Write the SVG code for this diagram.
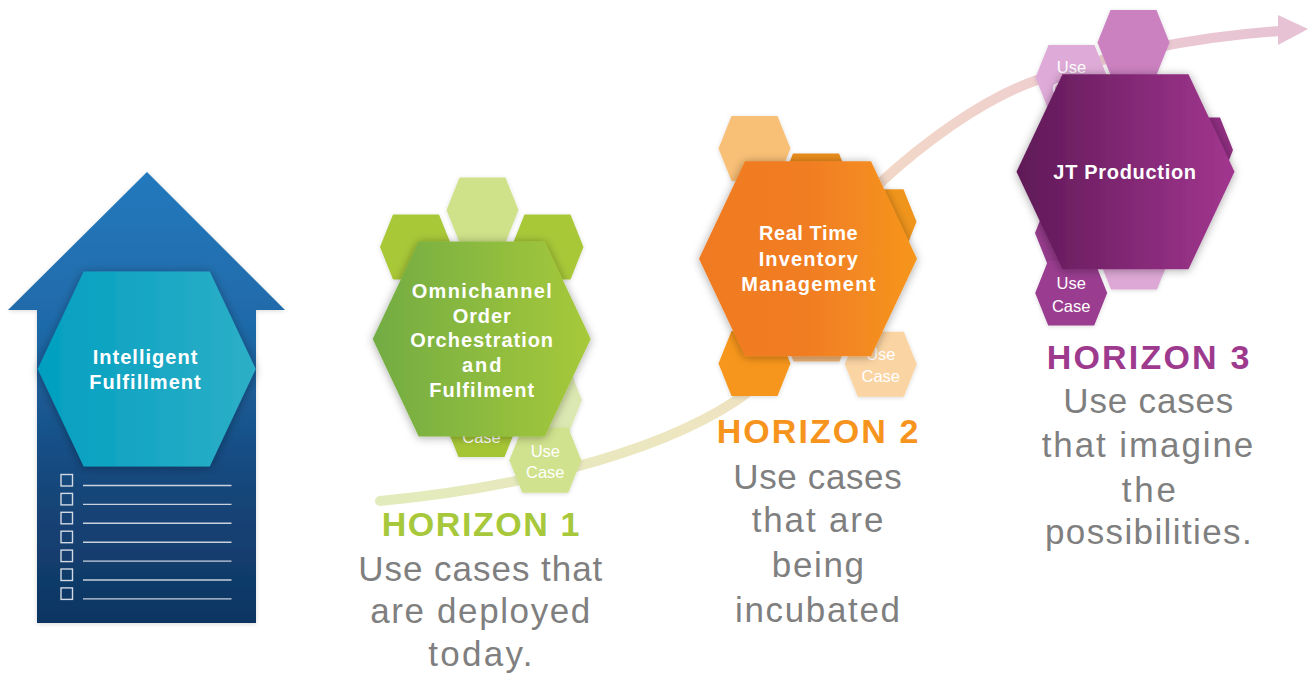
<svg xmlns="http://www.w3.org/2000/svg" xmlns:xlink="http://www.w3.org/1999/xlink" width="1309" height="677" viewBox="0 0 1309 677">
<style>
  .lbl { font-family: "Liberation Sans", Arial, sans-serif; font-weight: bold; font-size: 20px; fill: #ffffff; text-anchor: middle; }
  .uc { font-family: "Liberation Sans", Arial, sans-serif; font-size: 16.5px; fill: #ffffff; text-anchor: middle; }
  .ttl { font-family: "Liberation Sans", Arial, sans-serif; font-weight: bold; font-size: 34px; text-anchor: middle; }
  .body { font-family: "Liberation Sans", Arial, sans-serif; font-size: 35px; fill: #7f7f7f; text-anchor: middle; }
  .chk { fill: none; stroke: #d3d9e3; stroke-width: 1.4; }
  .ln { stroke: #c9d1dd; stroke-width: 1.4; }
</style>
<defs>
  <polygon id="hexL" points="-109,0 -63,-97.5 63,-97.5 109,0 63,97.5 -63,97.5"/>
  <polygon id="hexS" points="-36,0 -23,-32.5 23,-32.5 36,0 23,32.5 -23,32.5"/>
  <filter id="sh" x="-30%" y="-30%" width="160%" height="160%">
    <feDropShadow dx="0" dy="1" stdDeviation="5" flood-color="#000000" flood-opacity="0.35"/>
  </filter>
  <filter id="shs" x="-30%" y="-30%" width="160%" height="160%">
    <feDropShadow dx="0" dy="1" stdDeviation="2" flood-color="#000000" flood-opacity="0.15"/>
  </filter>
  <linearGradient id="gArrow" x1="0" y1="172" x2="0" y2="623" gradientUnits="userSpaceOnUse">
    <stop offset="0" stop-color="#2479bd"/>
    <stop offset="0.35" stop-color="#1f69a8"/>
    <stop offset="0.7" stop-color="#15467a"/>
    <stop offset="1" stop-color="#0f3561"/>
  </linearGradient>
  <linearGradient id="gBlue" x1="0" y1="0" x2="1" y2="0">
    <stop offset="0" stop-color="#029fc0"/>
    <stop offset="1" stop-color="#2dafc7"/>
  </linearGradient>
  <linearGradient id="gGreen" x1="0" y1="0" x2="1" y2="0">
    <stop offset="0" stop-color="#72ac44"/>
    <stop offset="1" stop-color="#a7c93a"/>
  </linearGradient>
  <linearGradient id="gOrange" x1="0" y1="0" x2="1" y2="0">
    <stop offset="0" stop-color="#f07a22"/>
    <stop offset="0.5" stop-color="#f17d22"/>
    <stop offset="1" stop-color="#f6961e"/>
  </linearGradient>
  <linearGradient id="gPurple" x1="0" y1="0" x2="1" y2="0">
    <stop offset="0" stop-color="#5f1957"/>
    <stop offset="1" stop-color="#a2368f"/>
  </linearGradient>
  <linearGradient id="gCurve" x1="380" y1="0" x2="1309" y2="0" gradientUnits="userSpaceOnUse">
    <stop offset="0" stop-color="#e2ebbb"/>
    <stop offset="0.33" stop-color="#ede6c0"/>
    <stop offset="0.55" stop-color="#f2d7c7"/>
    <stop offset="0.75" stop-color="#eecdd1"/>
    <stop offset="1" stop-color="#e6c2d4"/>
  </linearGradient>
</defs>

<g id="connectors">
  <path d="M380,501 C500,490 650,458 737,400 C800,360 840,220 880,183 C920,146 980,100 1037,80 C1100,58 1180,38 1280,31" fill="none" stroke="url(#gCurve)" stroke-width="10" stroke-linecap="round"/>
  <polygon points="1278,15 1308,29 1278,45" fill="#e6c2d4"/>
</g>

<g id="intelligent-fulfillment">
  <polygon points="147,172 285,310 256,310 256,623 37,623 37,310 8,310" fill="url(#gArrow)" filter="url(#shs)"/>
  <use href="#hexL" x="146.7" y="369" fill="url(#gBlue)" filter="url(#sh)"/>
  <text class="lbl" x="145" y="364" textLength="104.6" lengthAdjust="spacing">Intelligent</text>
  <text class="lbl" x="145" y="389.3" textLength="111.4" lengthAdjust="spacing">Fulfillment</text>
  <g id="checklist">
    <rect class="chk" x="61" y="474.5" width="11.5" height="11.5"/>
    <rect class="chk" x="61" y="493.4" width="11.5" height="11.5"/>
    <rect class="chk" x="61" y="512.3" width="11.5" height="11.5"/>
    <rect class="chk" x="61" y="531.2" width="11.5" height="11.5"/>
    <rect class="chk" x="61" y="550.1" width="11.5" height="11.5"/>
    <rect class="chk" x="61" y="569" width="11.5" height="11.5"/>
    <rect class="chk" x="61" y="587.9" width="11.5" height="11.5"/>
    <line class="ln" x1="83" y1="485.5" x2="231.5" y2="485.5"/>
    <line class="ln" x1="83" y1="504.4" x2="231.5" y2="504.4"/>
    <line class="ln" x1="83" y1="523.3" x2="231.5" y2="523.3"/>
    <line class="ln" x1="83" y1="542.2" x2="231.5" y2="542.2"/>
    <line class="ln" x1="83" y1="561.1" x2="231.5" y2="561.1"/>
    <line class="ln" x1="83" y1="580" x2="231.5" y2="580"/>
    <line class="ln" x1="83" y1="598.9" x2="231.5" y2="598.9"/>
  </g>
</g>

<g id="horizon1-cluster">
  <use href="#hexS" x="482.5" y="210" fill="#cfe28a" filter="url(#shs)"/>
  <use href="#hexS" x="416" y="247" fill="#a8c838" filter="url(#shs)"/>
  <use href="#hexS" x="547.5" y="247" fill="#a8c838" filter="url(#shs)"/>
  <use href="#hexS" x="546" y="400" fill="#dce8b2" filter="url(#shs)"/>
  <g id="h1-usecase-a">
    <use href="#hexS" x="481.5" y="424.5" fill="#a5c535" filter="url(#shs)"/>
    <text class="uc" x="481.5" y="443">Case</text>
  </g>
  <g id="h1-usecase-b">
    <use href="#hexS" x="545.3" y="460.3" fill="#d0e28d" filter="url(#shs)"/>
    <text class="uc" x="545.3" y="456.5">Use</text>
    <text class="uc" x="545.3" y="478.3">Case</text>
  </g>
  <g id="omnichannel">
    <use href="#hexL" x="481.7" y="339" fill="url(#gGreen)" filter="url(#sh)"/>
    <text class="lbl" x="481.7" y="298.3" textLength="140" lengthAdjust="spacing">Omnichannel</text>
    <text class="lbl" x="481.7" y="322.7" textLength="58" lengthAdjust="spacing">Order</text>
    <text class="lbl" x="481.7" y="346.7" textLength="142.7" lengthAdjust="spacing">Orchestration</text>
    <text class="lbl" x="481.7" y="371.7" textLength="39.3" lengthAdjust="spacing">and</text>
    <text class="lbl" x="481.7" y="396.7" textLength="105" lengthAdjust="spacing">Fulfilment</text>
  </g>
</g>

<g id="horizon2-cluster">
  <use href="#hexS" x="754.5" y="148.5" fill="#f8bf76" filter="url(#shs)"/>
  <use href="#hexS" x="816" y="186" fill="#e98d1e" filter="url(#shs)"/>
  <use href="#hexS" x="880.5" y="221.7" fill="#f0951f" filter="url(#shs)"/>
  <use href="#hexS" x="754.5" y="363.5" fill="#f7961d" filter="url(#shs)"/>
  <use href="#hexS" x="816.5" y="329" fill="#eeb374" filter="url(#shs)"/>
  <g id="h2-usecase">
    <use href="#hexS" x="880.8" y="364.2" fill="#fbd4a3" filter="url(#shs)"/>
    <text class="uc" x="880.8" y="360">Use</text>
    <text class="uc" x="880.8" y="381.7">Case</text>
  </g>
  <g id="real-time-inventory">
    <use href="#hexL" x="808" y="258.8" fill="url(#gOrange)" filter="url(#sh)"/>
    <text class="lbl" x="808.3" y="240" textLength="98.7" lengthAdjust="spacing">Real Time</text>
    <text class="lbl" x="808.3" y="265.7" textLength="99.3" lengthAdjust="spacing">Inventory</text>
    <text class="lbl" x="808.3" y="290.7" textLength="134.3" lengthAdjust="spacing">Management</text>
  </g>
</g>

<g id="horizon3-cluster">
  <use href="#hexS" x="1133.5" y="42.5" fill="#cb80c0" filter="url(#shs)"/>
  <g id="h3-usecase-a">
    <use href="#hexS" x="1071.5" y="77.5" fill="#deaad7" filter="url(#shs)"/>
    <text class="uc" x="1071.5" y="72.7">Use</text>
    <text class="uc" x="1071.5" y="94.5">Case</text>
  </g>
  <use href="#hexS" x="1197" y="150" fill="#8e2f80" filter="url(#shs)"/>
  <use href="#hexS" x="1071" y="233" fill="#953a8a" filter="url(#shs)"/>
  <use href="#hexS" x="1134" y="257" fill="#dda8d6" filter="url(#shs)"/>
  <g id="h3-usecase-b">
    <use href="#hexS" x="1071.2" y="293" fill="#9a3d90" filter="url(#shs)"/>
    <text class="uc" x="1071.2" y="288.5">Use</text>
    <text class="uc" x="1071.2" y="311.5">Case</text>
  </g>
  <g id="jt-production">
    <use href="#hexL" x="1125.5" y="171.7" fill="url(#gPurple)" filter="url(#sh)"/>
    <text class="lbl" x="1124.7" y="179" textLength="142.7" lengthAdjust="spacing">JT Production</text>
  </g>
</g>

<g id="horizon1-text">
  <text class="ttl" x="480.5" y="535.7" fill="#a7c83a" textLength="197.6" lengthAdjust="spacing">HORIZON 1</text>
  <text class="body" x="480.3" y="580.7" textLength="244" lengthAdjust="spacing">Use cases that</text>
  <text class="body" x="480.3" y="623.3" textLength="220" lengthAdjust="spacing">are deployed</text>
  <text class="body" x="480.3" y="666" textLength="104.3" lengthAdjust="spacing">today.</text>
</g>

<g id="horizon2-text">
  <text class="ttl" x="817.5" y="443.3" fill="#f7941e" textLength="201.6" lengthAdjust="spacing">HORIZON 2</text>
  <text class="body" x="817.5" y="489.3" textLength="168.4" lengthAdjust="spacing">Use cases</text>
  <text class="body" x="817.5" y="531.7" textLength="131.7" lengthAdjust="spacing">that are</text>
  <text class="body" x="817.9" y="576.7" textLength="92.3" lengthAdjust="spacing">being</text>
  <text class="body" x="817.5" y="621.7" textLength="165" lengthAdjust="spacing">incubated</text>
</g>

<g id="horizon3-text">
  <text class="ttl" x="1148" y="369.3" fill="#9e3a8e" textLength="202.6" lengthAdjust="spacing">HORIZON 3</text>
  <text class="body" x="1148.3" y="413.3" textLength="170" lengthAdjust="spacing">Use cases</text>
  <text class="body" x="1147.5" y="456.7" textLength="211.6" lengthAdjust="spacing">that imagine</text>
  <text class="body" x="1148.8" y="501.7" textLength="54.3" lengthAdjust="spacing">the</text>
  <text class="body" x="1148.3" y="544" textLength="206.7" lengthAdjust="spacing">possibilities.</text>
</g>
</svg>
